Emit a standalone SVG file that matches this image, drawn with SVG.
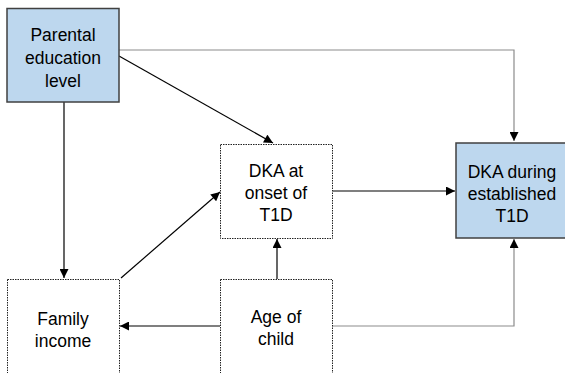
<svg xmlns="http://www.w3.org/2000/svg" width="565" height="373" viewBox="0 0 565 373">
<defs>
<style>
.solid{fill:#bdd7ee;stroke:#404040;stroke-width:1.5}
.dot{fill:#fff;stroke:#222;stroke-width:1;stroke-dasharray:1.5 1}
.t{font-family:"Liberation Sans",Arial,sans-serif;font-size:17.5px;fill:#000;text-anchor:middle}
.blk{stroke:#000;stroke-width:1.2;fill:none}
.gry{stroke:#8c8c8c;stroke-width:1.2;fill:none}
</style>
<marker id="ah" viewBox="0 0 10 10" refX="10" refY="5" markerWidth="10" markerHeight="9" markerUnits="userSpaceOnUse" orient="auto">
<path d="M0,0 L10,5 L0,10 z" fill="#000"/>
</marker>
</defs>
<rect width="565" height="373" fill="#fff"/>
<g id="connectors">
<line class="blk" x1="64" y1="102" x2="64" y2="278" marker-end="url(#ah)"/>
<line class="blk" x1="119" y1="56" x2="273" y2="143" marker-end="url(#ah)"/>
<polyline class="gry" points="119,50 514,50 514,141" marker-end="url(#ah)"/>
<line class="blk" x1="121" y1="278" x2="220" y2="192" marker-end="url(#ah)"/>
<line class="blk" x1="277" y1="279" x2="277" y2="239" marker-end="url(#ah)"/>
<line class="blk" x1="220" y1="326" x2="120" y2="326" marker-end="url(#ah)"/>
<polyline class="gry" points="332,326 514,326 514,239" marker-end="url(#ah)"/>
<line class="blk" x1="333" y1="191" x2="455" y2="191" marker-end="url(#ah)"/>
</g>
<g id="parental">
<rect class="solid" x="7" y="8.5" width="112" height="93.5"/>
<text class="t" x="63" y="41">Parental</text>
<text class="t" x="63" y="64">education</text>
<text class="t" x="63" y="87">level</text>
</g>
<g id="onset">
<rect class="dot" x="220.5" y="144.5" width="112" height="94"/>
<text class="t" x="276" y="177">DKA at</text>
<text class="t" x="276" y="199">onset of</text>
<text class="t" x="276" y="221">T1D</text>
</g>
<g id="established">
<rect class="solid" x="456" y="143" width="125" height="95"/>
<text class="t" x="512" y="178">DKA during</text>
<text class="t" x="512" y="200">established</text>
<text class="t" x="512" y="222">T1D</text>
</g>
<g id="income">
<rect class="dot" x="7.5" y="279.5" width="112" height="110"/>
<text class="t" x="63" y="325">Family</text>
<text class="t" x="63" y="347">income</text>
</g>
<g id="age">
<rect class="dot" x="220.5" y="279.5" width="112" height="110"/>
<text class="t" x="276" y="323">Age of</text>
<text class="t" x="276" y="345">child</text>
</g>
</svg>
